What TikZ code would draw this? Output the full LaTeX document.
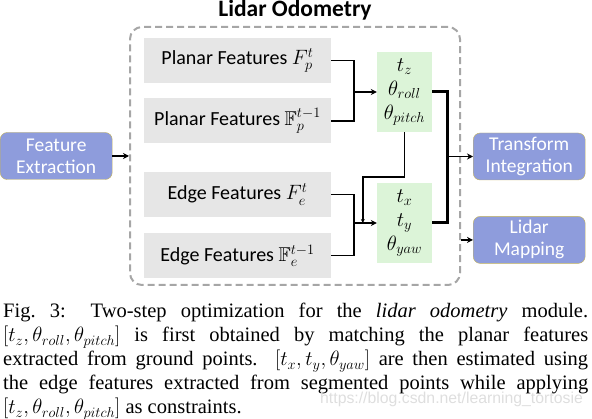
\documentclass[tikz,border=0pt]{standalone}
\usepackage{amsmath,amssymb}
\usepackage{fontspec}
\setmainfont{Liberation Serif}
\setsansfont{Carlito}
\newfontfamily\markfont{Liberation Sans}
\usetikzlibrary{arrows.meta, positioning, calc}
\definecolor{modblue}{HTML}{8E9CDC}
\definecolor{modedge}{HTML}{C4B35A}
\definecolor{featgray}{HTML}{E6E6E6}
\definecolor{pargreen}{HTML}{DCF4D8}
\definecolor{framegray}{HTML}{A6A6A6}
\tikzstyle{modbox} = [rectangle, rounded corners=7pt, minimum width=112pt, minimum height=47pt, inner sep=0pt,
                      align=center, draw=modedge, fill=modblue, text=white, font=\sffamily\fontsize{19.5}{22}\selectfont]
\tikzstyle{featbox} = [rectangle, minimum width=187pt, minimum height=45pt, inner sep=0pt,
                       fill=featgray, font=\sffamily\fontsize{20}{24}\selectfont]
\tikzstyle{parbox} = [rectangle, minimum width=55pt, minimum height=80pt, inner sep=0pt,
                      align=center, fill=pargreen, font=\fontsize{22}{24}\selectfont]
\tikzstyle{odoframe} = [rectangle, rounded corners=12pt, minimum width=330pt, minimum height=258pt,
                        draw=framegray, line width=2pt, dash pattern=on 7pt off 4pt]
\tikzstyle{headline} = [inner sep=0pt, font=\sffamily\bfseries\fontsize{23.5}{26}\selectfont]
\tikzstyle{captext} = [inner sep=0pt, text width=585pt, align=justify, font=\fontsize{20.5}{24}\selectfont]
\tikzstyle{wmark} = [inner sep=0pt, text=black!13, font=\markfont\fontsize{15.8}{18}\selectfont]
\tikzstyle{link} = [line width=1.5pt]
\tikzstyle{thicklink} = [line width=3pt]
\tikzstyle{arrow} = [line width=1.5pt, ->, >={Stealth[length=6pt,width=6pt]}]

\begin{document}
\begin{tikzpicture}[x=1pt, y=-1pt, node distance=15pt and 23pt]
    \useasboundingbox (0,0) rectangle (592,419);

    % Frame of the odometry module
    \node[odoframe] (odo) at (295,156) {};
    \node[headline, above=9pt of odo.north, anchor=base] (title) {Lidar Odometry};

    % Input and outputs
    \node[modbox, anchor=west] (extract) at (0,156) {Feature\\Extraction};
    \node[modbox, anchor=west] (integ) at (473,156.5) {Transform\\Integration};
    \node[modbox, below=36pt of integ] (mapping) {Lidar\\Mapping};

    % Feature boxes
    \node[featbox] (planar1) at (237.5,60.5) {Planar Features $F_p^t$};
    \node[featbox, below=of planar1] (planar2) {Planar Features $\mathbb{F}_p^{t-1}$};
    \node[featbox, below=28pt of planar2] (edge1) {Edge Features $F_e^t$};
    \node[featbox, below=16pt of edge1] (edge2) {Edge Features $\mathbb{F}_e^{t-1}$};

    % Estimated parameters
    \node[parbox] (rot) at (404.5,92) {$t_z$\\$\theta_{roll}$\\$\theta_{pitch}$};
    \node[parbox] (trans) at (404.5,223) {$t_x$\\$t_y$\\$\theta_{yaw}$};

    % Join points
    \coordinate (pjoin) at ($(planar1.east)+(23pt,0)$);
    \coordinate (ejoin) at ($(edge1.east)+(23pt,0)$);
    \coordinate (fb) at ($(trans.west)+(-14pt,0)$);
    \coordinate (ojoin) at ($(rot.east)+(15pt,0)$);

    % Step 1: planar features
    \draw[link] (planar1.east) -- (pjoin) |- (planar2.east);
    \draw[arrow] (pjoin |- rot.west) -- (rot.west);

    % Step 2: edge features, constrained by step 1
    \draw[link] (edge1.east) -- (ejoin) |- (edge2.east);
    \draw[arrow] (ejoin |- trans.west) -- (trans.west);
    \draw[link, ->, >={Stealth[length=4pt,width=4pt]}] (rot.south) -- ++(0,-45pt) -| (fb);

    % Outputs
    \draw[thicklink] (rot.east) -- (ojoin) |- (trans.east);
    \draw[arrow] (ojoin |- integ.west) -- (integ.west);
    \draw[arrow] (extract.east) -- (extract.east -| odo.west);
    \draw[arrow] (mapping.west -| odo.east) -- (mapping.west);

    % Caption
    \node[captext, anchor=base west] (cap) at (3,318) {Fig.~3: Two-step optimization for the \textit{lidar odometry} module.\linebreak
        $[t_z,\theta_{roll},\theta_{pitch}]$ is first obtained by matching the planar features\linebreak
        extracted from ground points. $[t_x,t_y,\theta_{yaw}]$ are then estimated using\linebreak
        the edge features extracted from segmented points while applying\linebreak
        $[t_z,\theta_{roll},\theta_{pitch}]$ as constraints.};
    \node[wmark, anchor=base west] (wm) at (320,404) {https://blog.csdn.net/learning\_tortosie};
\end{tikzpicture}
\end{document}
